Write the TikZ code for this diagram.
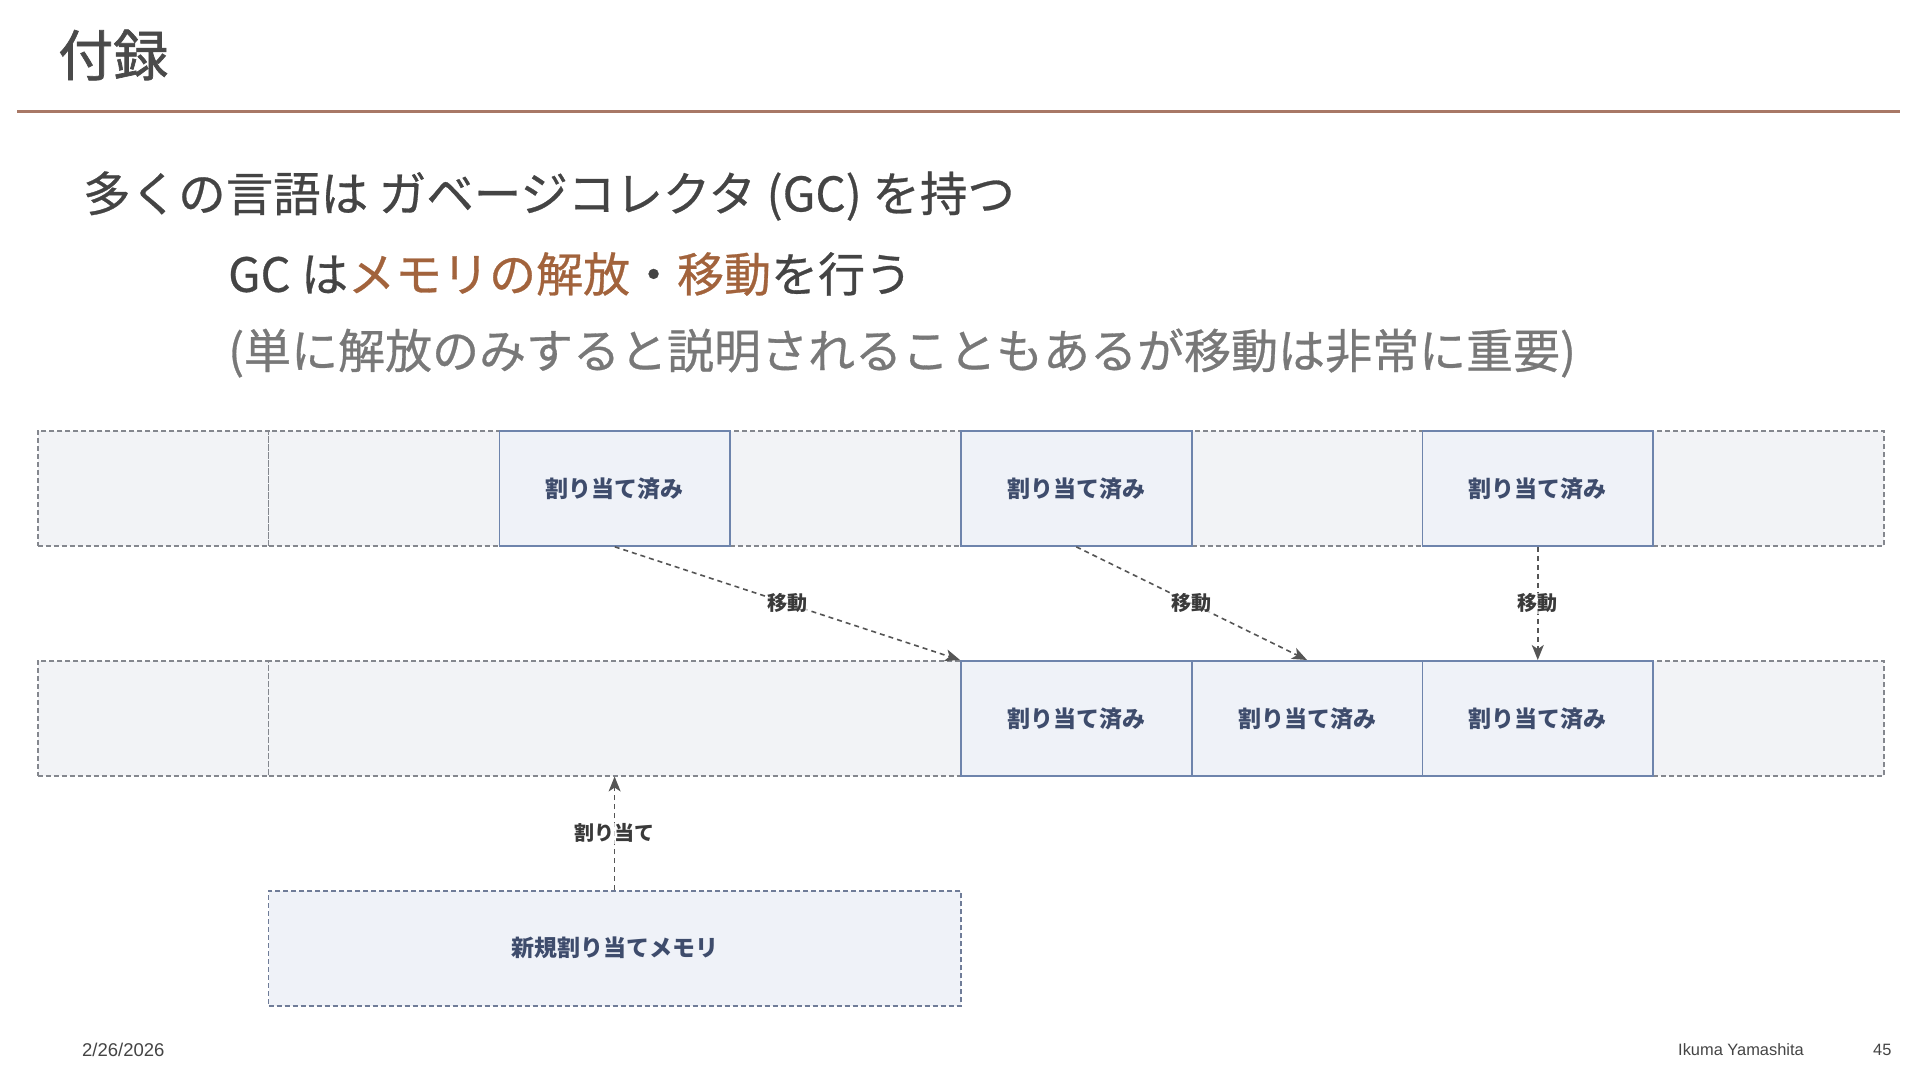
\documentclass[tikz,border=0pt]{standalone}
\usepackage{fontspec}
\setmainfont{Noto Sans CJK JP}
\newfontfamily\bodyfont{Noto Sans CJK JP}[FakeBold=0.6]
\newfontfamily\titlefont{Noto Sans CJK JP}[FakeBold=1.2]
\newfontfamily\footfont{Liberation Sans}
\usetikzlibrary{arrows.meta}
\definecolor{titlegray}{HTML}{4A4A4A}
\definecolor{bodygray}{HTML}{444444}
\definecolor{subgray}{HTML}{787878}
\definecolor{accent}{HTML}{A2633C}
\definecolor{rulecol}{HTML}{A87866}
\definecolor{freeline}{HTML}{84878E}
\definecolor{freefill}{HTML}{F2F3F6}
\definecolor{allocline}{HTML}{6E84AC}
\definecolor{allocfill}{HTML}{EFF2F8}
\definecolor{alloctext}{HTML}{3E4C6C}
\definecolor{newline}{HTML}{6F7C98}
\definecolor{arrowgray}{HTML}{555555}
\definecolor{labelgray}{HTML}{3A3A3A}
\begin{document}
\begin{tikzpicture}[x=1pt,y=-1pt,
  cell/.style={minimum width=230.75pt, minimum height=115pt, inner sep=0pt, anchor=north west},
  freecell/.style={cell, draw=freeline, fill=freefill, line width=1.5pt, dash pattern=on 5pt off 3pt},
  alloccell/.style={cell, draw=allocline, fill=allocfill, line width=1.8pt,
    text=alloctext, font=\bfseries\fontsize{23}{27}\selectfont},
  move/.style={draw=arrowgray, line width=1.6pt, dash pattern=on 5pt off 4pt,
    -{Stealth[length=15pt,width=12pt,inset=4pt]}},
  lbl/.style={fill=white, fill opacity=0.7, text opacity=1, inner sep=1pt, text=labelgray,
    font=\bfseries\fontsize{20}{23}\selectfont},
  txt/.style={anchor=west, inner sep=0pt},
  foot/.style={anchor=west, inner sep=0pt, text=bodygray, font=\footfont\fontsize{16.4}{19}\selectfont}
]
\useasboundingbox (0,0) rectangle (1920,1080);
\fill[white] (0,0) rectangle (1920,1080);

% title
\node[txt, text=titlegray, font=\titlefont\fontsize{55}{64}\selectfont] (title) at (58,55) {付録};
\draw[rulecol, line width=3pt] (17,111.5) coordinate (r1) -- (1900,111.5) coordinate (r2);

% body
\node[txt, text=bodygray, font=\bodyfont\fontsize{47.5}{56}\selectfont] (l1) at (83,196)
  {多くの言語は ガベージコレクタ (GC) を持つ};
\node[txt, text=bodygray, font=\bodyfont\fontsize{47}{56}\selectfont] (l2) at (228,274)
  {GC は\textcolor{accent}{メモリの解放}・\textcolor{accent}{移動}を行う};
\node[txt, text=subgray, font=\bodyfont\fontsize{47}{56}\selectfont] (l3) at (228,353)
  {(単に解放のみすると説明されることもあるが移動は非常に重要)};

% row 1
\node[freecell] (a0) at (37,430) {};
\node[freecell] (a1f) at (267.75,430) {};
\node[freecell] (a3f) at (729.25,430) {};
\node[freecell] (a5f) at (1190.75,430) {};
\node[freecell] (a7f) at (1652.25,430) {};
\node[alloccell] (a1) at (498.5,430) {割り当て済み};
\node[alloccell] (a2) at (960,430) {割り当て済み};
\node[alloccell] (a3) at (1421.5,430) {割り当て済み};

% row 2
\node[freecell] (b0) at (37,660) {};
\node[freecell, minimum width=692.25pt] (bfree) at (267.75,660) {};
\node[freecell] (b7) at (1652.25,660) {};
\node[alloccell] (b4) at (960,660) {割り当て済み};
\node[alloccell] (b5) at (1190.75,660) {割り当て済み};
\node[alloccell] (b6) at (1421.5,660) {割り当て済み};

% new allocation
\node[cell, minimum width=692.25pt, draw=newline, fill=allocfill, line width=1.5pt,
  dash pattern=on 5pt off 3pt, text=alloctext, font=\bfseries\fontsize{23}{27}\selectfont]
  (new) at (267.75,890) {新規割り当てメモリ};

% arrows
\draw[move] (a1.south) -- node[lbl] {移動} (b4.north west);
\draw[move] (a2.south) -- node[lbl] {移動} (b5.north);
\draw[move] (a3.south) -- node[lbl] {移動} (b6.north);
\draw[move] (new.north) -- node[lbl] {割り当て} (bfree.south);

% footer
\node[foot, font=\footfont\fontsize{18.5}{21}\selectfont] (date) at (82,1050) {2/26/2026};
\node[foot] (author) at (1678,1050) {Ikuma Yamashita};
\node[foot] (page) at (1873,1050) {45};
\end{tikzpicture}
\end{document}
